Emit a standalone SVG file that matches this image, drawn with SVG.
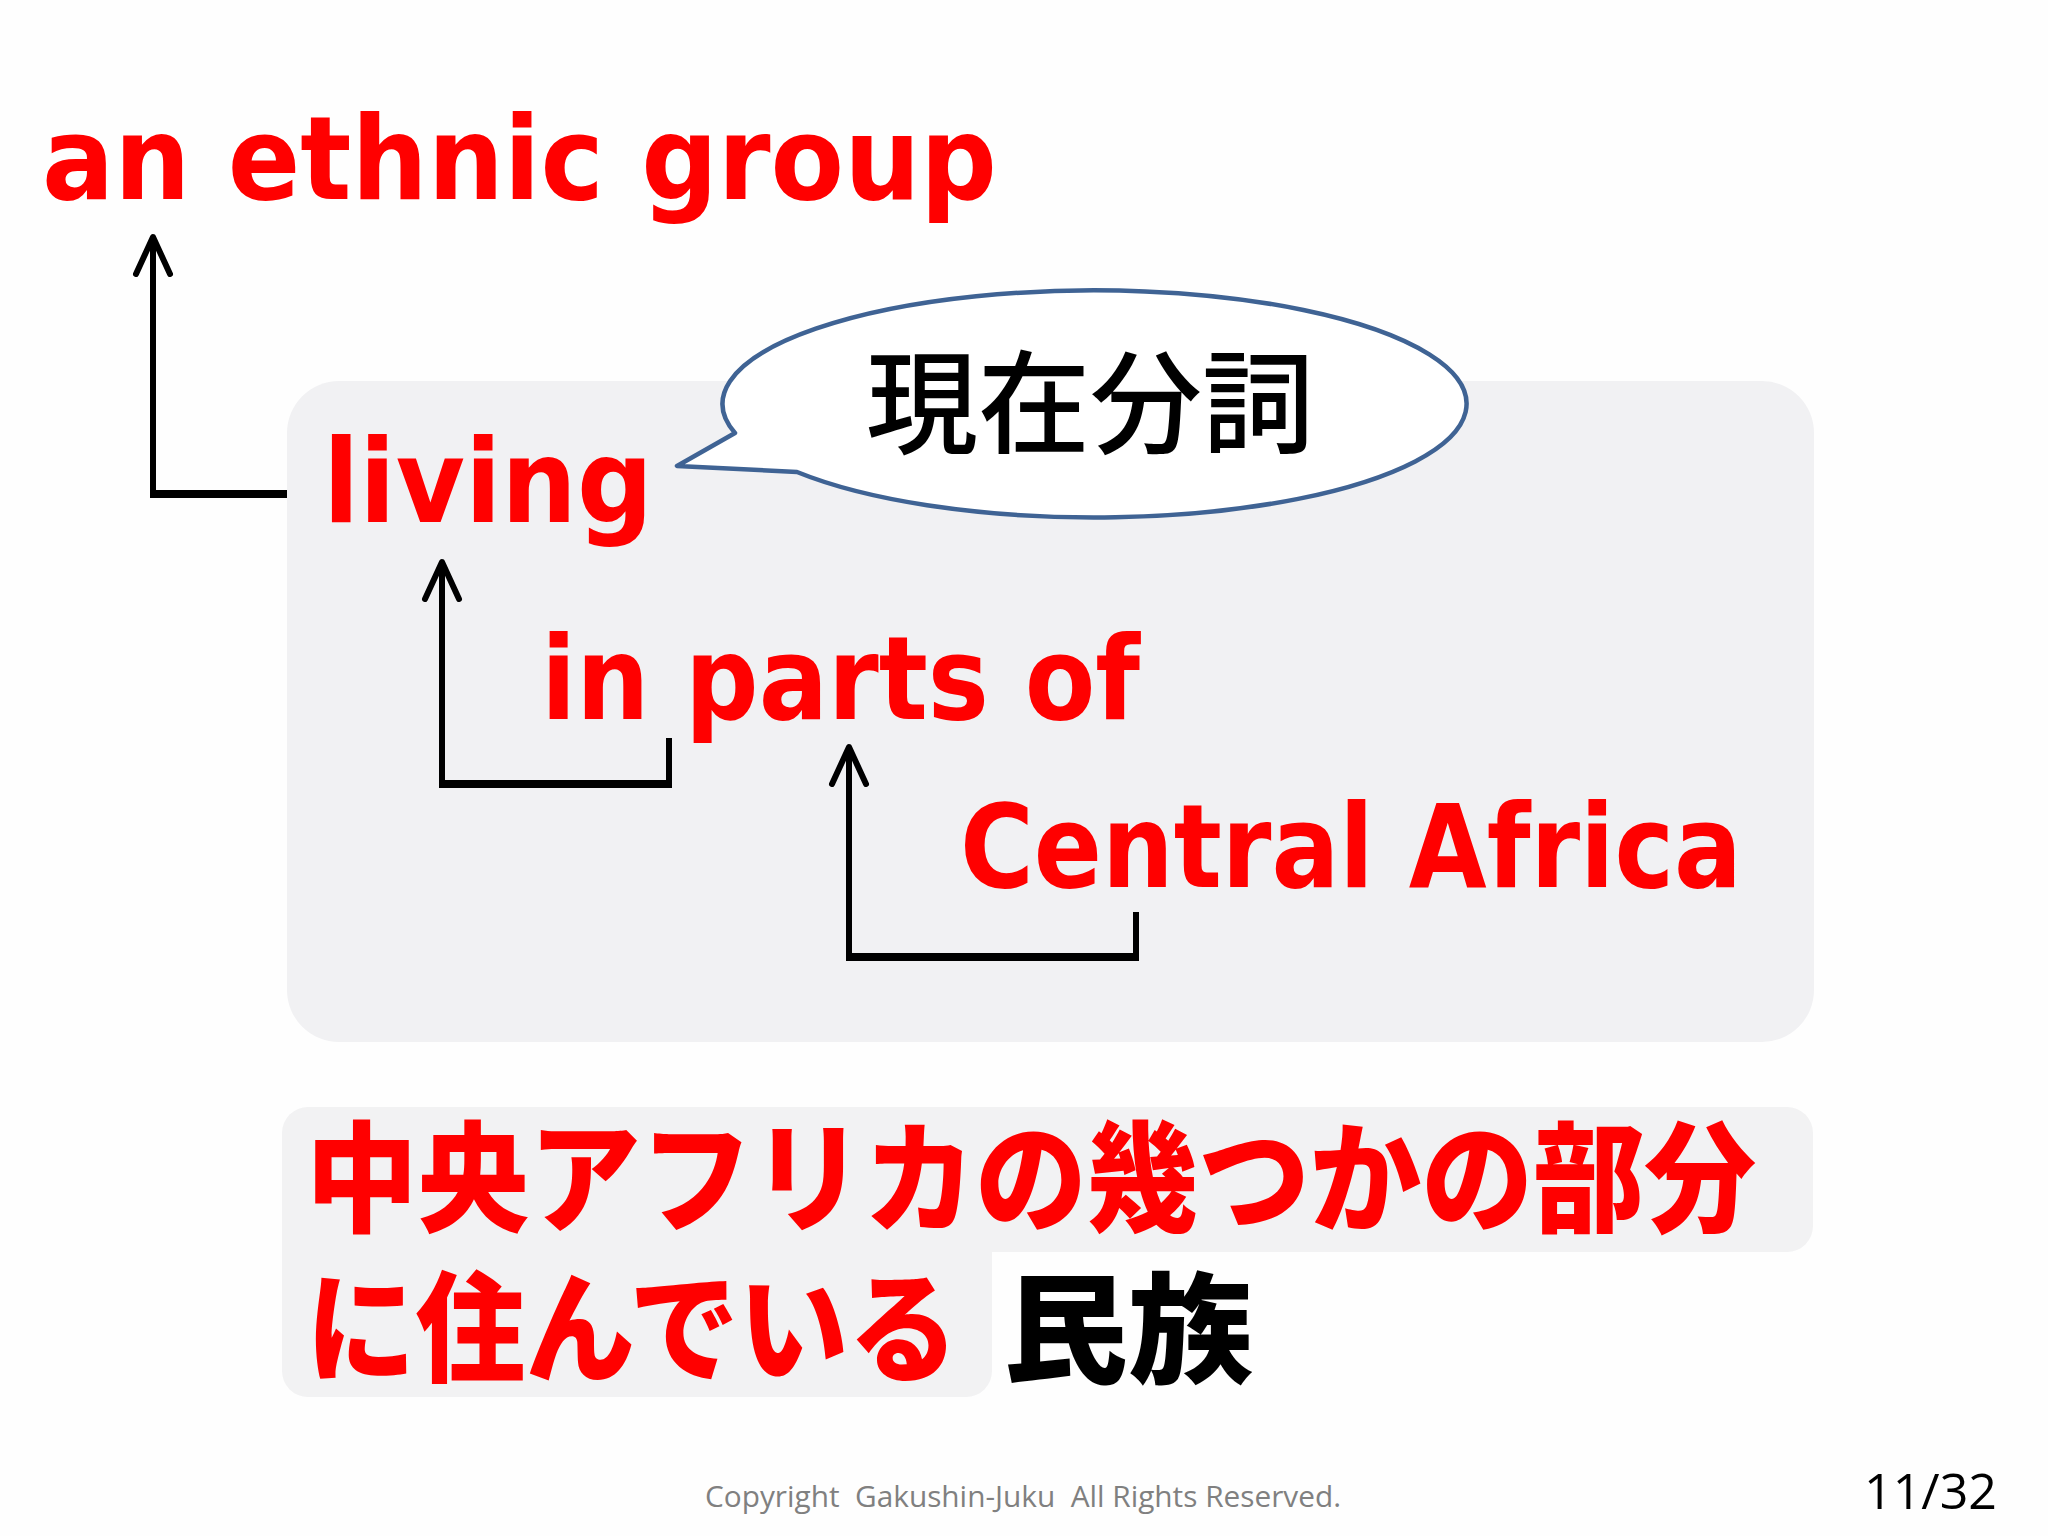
<svg xmlns="http://www.w3.org/2000/svg" width="2048" height="1536" viewBox="0 0 2048 1536">
<style>
.en{font-family:"DejaVu Sans Condensed","DejaVu Sans",sans-serif;font-weight:bold;font-size:115px;fill:#ff0000}
.jp{font-family:"Noto Sans CJK JP",sans-serif;font-weight:900;font-size:120px}
.red{fill:#ff0000}
.blk{fill:#000}
.v{stroke:#000;stroke-width:6;fill:none}
.h{stroke:#000;stroke-width:8;fill:none}
.foot{font-family:"Open Sans","Liberation Sans",sans-serif;font-size:29px;fill:#808080;white-space:pre}
.page{font-family:"Open Sans","Liberation Sans",sans-serif;font-size:50px;fill:#000}
</style>
<defs>
<marker id="arr" markerUnits="userSpaceOnUse" orient="auto" refX="0" refY="0" markerWidth="60" markerHeight="60" viewBox="-50 -30 60 60" overflow="visible">
<path d="M-37 -17 L0 0 L-37 17" fill="none" stroke="#000" stroke-width="6" stroke-linecap="round" stroke-linejoin="round"/>
</marker>
</defs>
<rect width="2048" height="1536" fill="#fefefe"/>
<g id="panel">
<rect x="287" y="381" width="1527" height="661" rx="52" ry="52" fill="#f1f1f3"/>
</g>
<g id="an-ethnic-group">
<text class="en" x="42" y="199" textLength="955" lengthAdjust="spacingAndGlyphs">an ethnic group</text>
</g>
<g id="living">
<text class="en" x="323" y="522" textLength="330" lengthAdjust="spacingAndGlyphs">living</text>
</g>
<g id="in-parts-of">
<text class="en" x="541" y="719" textLength="599" lengthAdjust="spacingAndGlyphs">in parts of</text>
</g>
<g id="central-africa">
<text class="en" x="960" y="887" textLength="782" lengthAdjust="spacingAndGlyphs">Central Africa</text>
</g>
<g id="bubble">
<path d="M735 433 L677 466 L797 472 A372 113.5 0 1 0 735 433 Z" fill="#ffffff" stroke="#3f6394" stroke-width="4.5" stroke-linejoin="round"/>
<text x="1090" y="445" text-anchor="middle" font-family="Noto Sans CJK JP, sans-serif" font-weight="500" font-size="112" fill="#000">現在分詞</text>
</g>
<g id="connectors">
<path class="v" d="M153 494 V237" marker-end="url(#arr)"/>
<line class="h" x1="150" y1="494" x2="287" y2="494"/>
<path class="v" d="M442 784 V562" marker-end="url(#arr)"/>
<line class="h" x1="439" y1="784" x2="672" y2="784"/>
<line class="v" x1="669" y1="738" x2="669" y2="788"/>
<path class="v" d="M849 957 V747" marker-end="url(#arr)"/>
<line class="h" x1="846" y1="957" x2="1139" y2="957"/>
<line class="v" x1="1136" y1="912" x2="1136" y2="961"/>
</g>
<g id="translation">
<rect x="282" y="1107" width="1531" height="145" rx="26" ry="26" fill="#f2f2f3"/>
<rect x="282" y="1200" width="710" height="197" rx="26" ry="26" fill="#f2f2f3"/>
<rect x="282" y="1230" width="690" height="40" fill="#f2f2f3"/>
<text class="jp red" x="306" y="1223" textLength="1450" lengthAdjust="spacingAndGlyphs">中央アフリカの幾つかの部分</text>
<text class="jp red" x="306" y="1373" textLength="652" lengthAdjust="spacingAndGlyphs">に住んでいる</text>
<text class="jp blk" x="1003" y="1374" textLength="250" lengthAdjust="spacingAndGlyphs">民族</text>
</g>
<g id="footer">
<text class="foot" x="705" y="1507" textLength="636" lengthAdjust="spacingAndGlyphs">Copyright  Gakushin-Juku  All Rights Reserved.</text>
<text class="page" x="1864" y="1509" textLength="133" lengthAdjust="spacingAndGlyphs">11/32</text>
</g>
</svg>
